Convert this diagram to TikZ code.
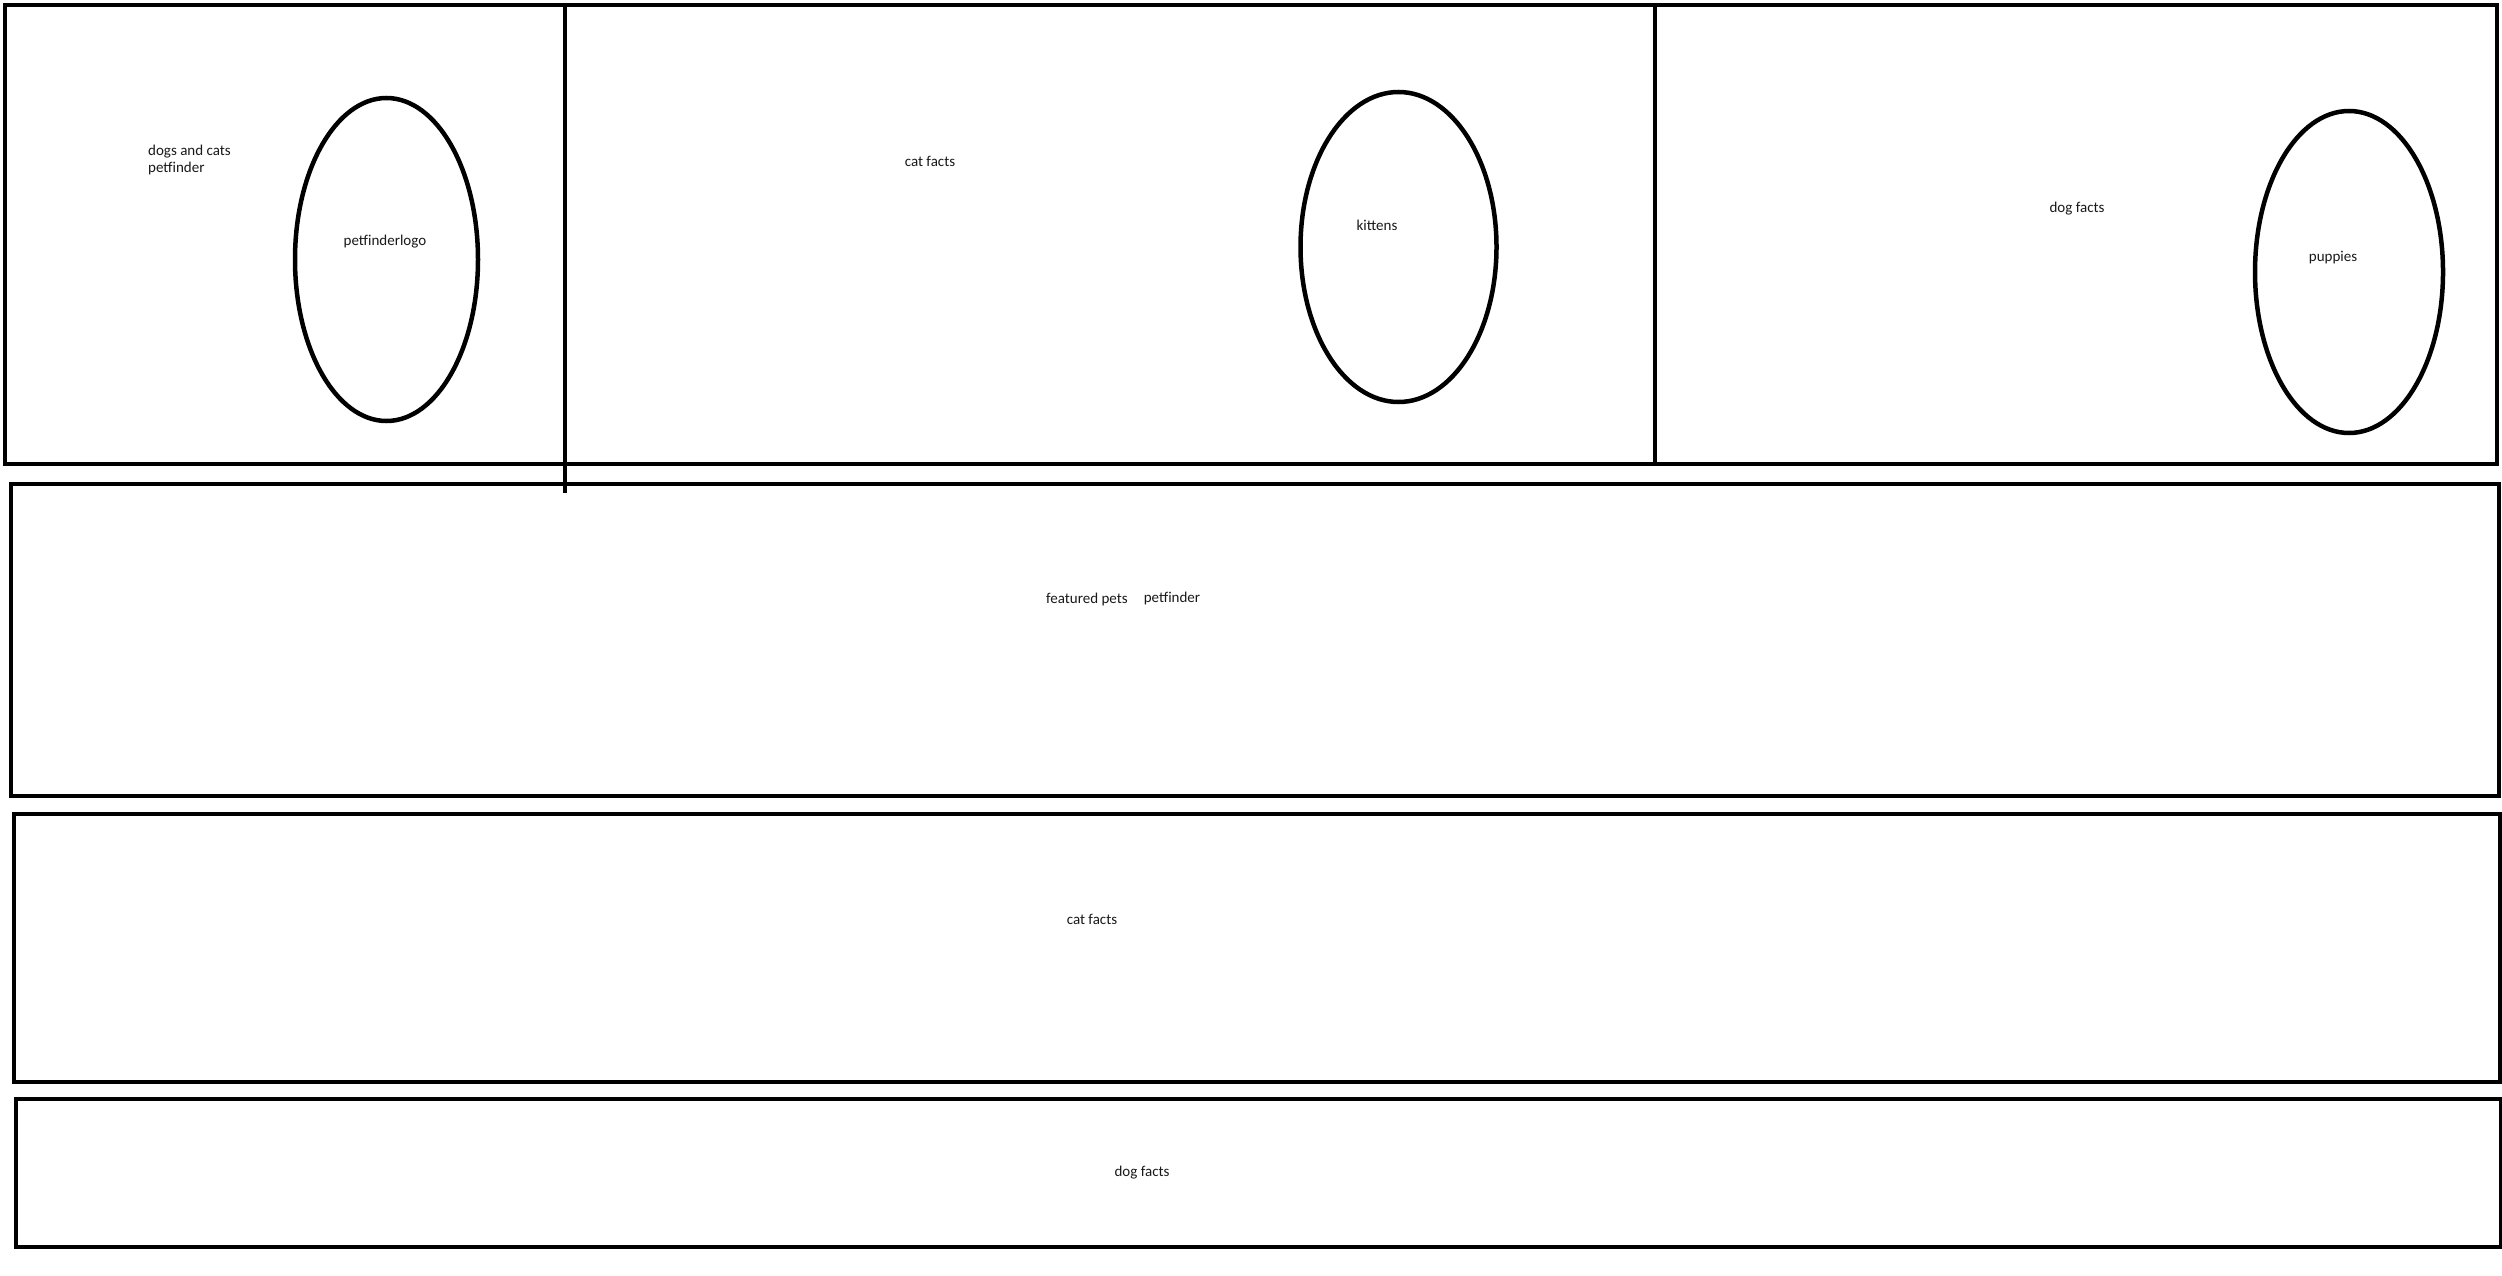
\documentclass[tikz,border=0pt]{standalone}
\usepackage{fontspec}
\setmainfont{Carlito}
\usetikzlibrary{shapes.geometric}
\begin{document}
\begin{tikzpicture}[x=1pt,y=-1pt,
  frame/.style={draw=black,line width=4.5pt,rectangle,inner sep=0pt,outer sep=0pt},
  oval/.style={draw=black,line width=4.5pt,ellipse,inner sep=0pt,outer sep=0pt},
  lbl/.style={font=\fontsize{15pt}{17pt}\selectfont,text=black!90,inner sep=0pt,anchor=center},
  divider/.style={draw=black,line width=4.5pt}]
\useasboundingbox[fill=white] (0,0) rectangle (2502,1276);
% frames
\node[frame,minimum width=2492pt,minimum height=459pt] (top) at (1251,234.5) {};
\node[frame,minimum width=2488pt,minimum height=312pt] (feat) at (1255,640) {};
\node[frame,minimum width=2486pt,minimum height=268pt] (cat) at (1257,948) {};
\node[frame,minimum width=2485pt,minimum height=148pt] (dog) at (1258.5,1173) {};
% dividers
\coordinate (d1a) at (565,5);
\coordinate (d1b) at (565,493);
\coordinate (d2a) at (1655,4);
\coordinate (d2b) at (1655,464);
\draw[divider] (d1a) -- (d1b);
\draw[divider] (d2a) -- (d2b);
% ellipses
\node[oval,minimum width=183pt,minimum height=323pt] (logo) at (386.5,259.5) {};
\node[oval,minimum width=196pt,minimum height=310pt] (kit) at (1398.5,247) {};
\node[oval,minimum width=188pt,minimum height=322pt] (pup) at (2349,272) {};
% labels
\node[lbl,anchor=west,align=left] (title) at (148,160) {dogs and cats\\petfinder};
\node[lbl] (logotxt) at (385,242) {petfinderlogo};
\node[lbl] (catfacts1) at (930,161) {cat facts};
\node[lbl] (kittxt) at (1377,225) {kittens};
\node[lbl] (dogfacts1) at (2077,209) {dog facts};
\node[lbl] (puptxt) at (2333,258) {puppies};
\node[lbl] (feattxt) at (1087,599) {featured pets};
\node[lbl] (pfTxt) at (1172,598) {petfinder};
\node[lbl] (catfacts2) at (1092,919) {cat facts};
\node[lbl] (dogfacts2) at (1142,1173) {dog facts};
\end{tikzpicture}
\end{document}
